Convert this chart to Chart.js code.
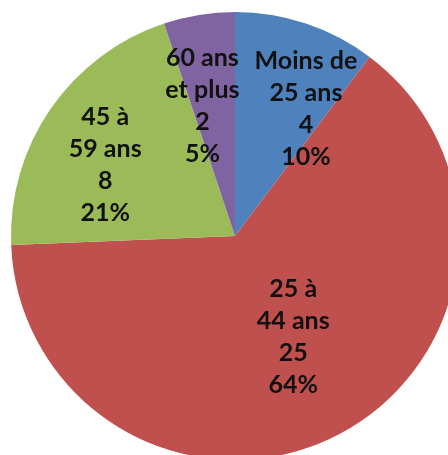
<!DOCTYPE html>
<html>
<head>
<meta charset="utf-8">
<script src="https://cdn.jsdelivr.net/npm/chart.js@4.4.0/dist/chart.umd.min.js"></script>
<style>
  html, body { margin: 0; padding: 0; background: #fff; overflow: hidden; }
  #wrap { position: absolute; left: 0; top: 0; width: 470px; height: 470px; }
</style>
</head>
<body>
<div id="wrap"><canvas id="ageChart"></canvas></div>
<script>
// Age groups, clockwise from 12 o'clock
const categories = ['Moins de 25 ans', '25 à 44 ans', '45 à 59 ans', '60 ans et plus'];
const labelLines = [
    ['Moins de', '25 ans'],
    ['25 à', '44 ans'],
    ['45 à', '59 ans'],
    ['60 ans', 'et plus']
];
const counts = [4, 25, 8, 2];
const sliceColors = ['#4F81BD', '#C0504D', '#9BBB59', '#8064A2'];

// where each label sits: fraction of radius, angle nudge (degrees)
const labelRadius = [0.65, 0.52, 0.66, 0.60];
const labelNudge = [10.7, -2.3, -6, -4.8];

const sliceLabels = {
    id: 'sliceLabels',
    afterDatasetsDraw(chart) {
        const ctx = chart.ctx;
        const meta = chart.getDatasetMeta(0);
        const total = counts.reduce((a, b) => a + b, 0);
        ctx.save();
        ctx.font = 'bold 25px Lato';
        ctx.fillStyle = '#111';
        ctx.textAlign = 'center';
        ctx.textBaseline = 'middle';
        meta.data.forEach(function(arc, i) {
            const mid = (arc.startAngle + arc.endAngle) / 2 + labelNudge[i] * Math.PI / 180;
            const r = arc.outerRadius * labelRadius[i];
            const x = arc.x + Math.cos(mid) * r;
            const y = arc.y + Math.sin(mid) * r;
            const pct = Math.round(counts[i] / total * 100) + '%';
            const lines = labelLines[i].concat([String(counts[i]), pct]);
            const lh = 32;
            lines.forEach(function(line, j) {
                ctx.fillText(line, x, y + (j - (lines.length - 1) / 2) * lh);
            });
        });
        ctx.restore();
    }
};

new Chart(document.getElementById('ageChart').getContext('2d'), {
    type: 'pie',
    data: {
        labels: categories,
        datasets: [{
            data: counts,
            backgroundColor: sliceColors,
            borderWidth: 0
        }]
    },
    options: {
        responsive: true,
        maintainAspectRatio: false,
        animation: false,
        layout: { padding: { left: 11, top: 12, right: 11, bottom: 10 } },
        plugins: {
            legend: { display: false },
            tooltip: { enabled: false }
        }
    },
    plugins: [sliceLabels]
});
</script>
</body>
</html>
